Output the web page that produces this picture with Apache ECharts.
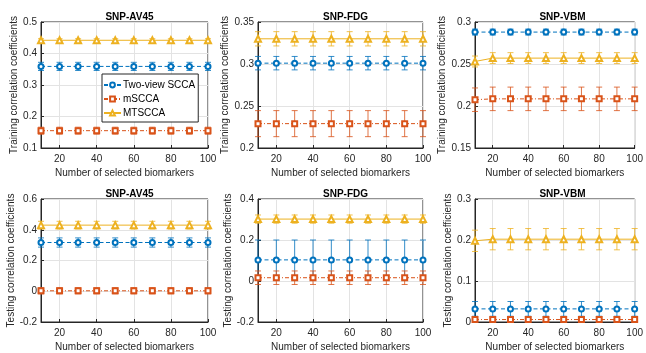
<!DOCTYPE html>
<html>
<head>
<meta charset="utf-8">
<script src="https://cdn.jsdelivr.net/npm/echarts@6/dist/echarts.min.js"></script>
<style>
html,body{margin:0;padding:0;background:#fff;}
#chart{width:646px;height:353px;}
</style>
</head>
<body>
<div id="chart"></div>
<script>
// ---- data ----
const xValues = [10, 20, 30, 40, 50, 60, 70, 80, 90, 100];
const xTickLabels = [20, 40, 60, 80, 100];
const seriesNames = ['Two-view SCCA', 'mSCCA', 'MTSCCA'];
const panelTitles = ['SNP-AV45', 'SNP-FDG', 'SNP-VBM', 'SNP-AV45', 'SNP-FDG', 'SNP-VBM'];
const yAxisNames = ['Training correlation coefficients', 'Testing correlation coefficients'];
const xAxisName = 'Number of selected biomarkers';

// Training: SNP-AV45
const trainAV45_two = [0.359, 0.359, 0.359, 0.359, 0.359, 0.359, 0.359, 0.359, 0.359, 0.359];
const trainAV45_two_err = [0.013, 0.013, 0.013, 0.013, 0.013, 0.013, 0.013, 0.013, 0.013, 0.013];
const trainAV45_m = [0.155, 0.155, 0.155, 0.155, 0.155, 0.155, 0.155, 0.155, 0.155, 0.155];
const trainAV45_m_err = [0.011, 0.011, 0.011, 0.011, 0.011, 0.011, 0.011, 0.011, 0.011, 0.011];
const trainAV45_mt = [0.442, 0.442, 0.442, 0.442, 0.442, 0.442, 0.442, 0.442, 0.442, 0.442];
const trainAV45_mt_err = [0.005, 0.005, 0.005, 0.005, 0.005, 0.005, 0.005, 0.005, 0.005, 0.005];
// Training: SNP-FDG
const trainFDG_two = [0.301, 0.301, 0.301, 0.301, 0.301, 0.301, 0.301, 0.301, 0.301, 0.301];
const trainFDG_two_err = [0.008, 0.008, 0.008, 0.008, 0.008, 0.008, 0.008, 0.008, 0.008, 0.008];
const trainFDG_m = [0.229, 0.229, 0.229, 0.229, 0.229, 0.229, 0.229, 0.229, 0.229, 0.229];
const trainFDG_m_err = [0.0155, 0.0155, 0.0155, 0.0155, 0.0155, 0.0155, 0.0155, 0.0155, 0.0155, 0.0155];
const trainFDG_mt = [0.330, 0.330, 0.330, 0.330, 0.330, 0.330, 0.330, 0.330, 0.330, 0.330];
const trainFDG_mt_err = [0.0085, 0.0085, 0.0085, 0.0085, 0.0085, 0.0085, 0.0085, 0.0085, 0.0085, 0.0085];
// Training: SNP-VBM
const trainVBM_two = [0.288, 0.288, 0.288, 0.288, 0.288, 0.288, 0.288, 0.288, 0.288, 0.288];
const trainVBM_two_err = [0.0035, 0.0035, 0.0035, 0.0035, 0.0035, 0.0035, 0.0035, 0.0035, 0.0035, 0.0035];
const trainVBM_m = [0.2075, 0.2085, 0.2085, 0.2085, 0.2085, 0.2085, 0.2085, 0.2085, 0.2085, 0.2085];
const trainVBM_m_err = [0.014, 0.014, 0.014, 0.014, 0.014, 0.014, 0.014, 0.014, 0.014, 0.014];
const trainVBM_mt = [0.253, 0.257, 0.257, 0.257, 0.257, 0.257, 0.257, 0.257, 0.257, 0.257];
const trainVBM_mt_err = [0.0065, 0.0065, 0.0065, 0.0065, 0.0065, 0.0065, 0.0065, 0.0065, 0.0065, 0.0065];
// Testing: SNP-AV45
const testAV45_two = [0.317, 0.317, 0.317, 0.317, 0.317, 0.317, 0.317, 0.317, 0.317, 0.317];
const testAV45_two_err = [0.03, 0.03, 0.03, 0.03, 0.03, 0.03, 0.03, 0.03, 0.03, 0.03];
const testAV45_m = [0.003, 0.003, 0.003, 0.003, 0.003, 0.003, 0.003, 0.003, 0.003, 0.003];
const testAV45_m_err = [0.02, 0.02, 0.02, 0.02, 0.02, 0.02, 0.02, 0.02, 0.02, 0.02];
const testAV45_mt = [0.43, 0.43, 0.43, 0.43, 0.43, 0.43, 0.43, 0.43, 0.43, 0.43];
const testAV45_mt_err = [0.025, 0.025, 0.025, 0.025, 0.025, 0.025, 0.025, 0.025, 0.025, 0.025];
// Testing: SNP-FDG
const testFDG_two = [0.103, 0.103, 0.103, 0.103, 0.103, 0.103, 0.103, 0.103, 0.103, 0.103];
const testFDG_two_err = [0.097, 0.097, 0.097, 0.097, 0.097, 0.097, 0.097, 0.097, 0.097, 0.097];
const testFDG_m = [0.016, 0.016, 0.016, 0.016, 0.016, 0.016, 0.016, 0.016, 0.016, 0.016];
const testFDG_m_err = [0.033, 0.033, 0.033, 0.033, 0.033, 0.033, 0.033, 0.033, 0.033, 0.033];
const testFDG_mt = [0.302, 0.302, 0.302, 0.302, 0.302, 0.302, 0.302, 0.302, 0.302, 0.302];
const testFDG_mt_err = [0.02, 0.02, 0.02, 0.02, 0.02, 0.02, 0.02, 0.02, 0.02, 0.02];
// Testing: SNP-VBM
const testVBM_two = [0.032, 0.032, 0.032, 0.032, 0.032, 0.032, 0.032, 0.032, 0.032, 0.032];
const testVBM_two_err = [0.018, 0.018, 0.018, 0.018, 0.018, 0.018, 0.018, 0.018, 0.018, 0.018];
const testVBM_m = [0.006, 0.006, 0.006, 0.006, 0.006, 0.006, 0.006, 0.006, 0.006, 0.006];
const testVBM_m_err = [0.004, 0.004, 0.004, 0.004, 0.004, 0.004, 0.004, 0.004, 0.004, 0.004];
const testVBM_mt = [0.198, 0.202, 0.202, 0.202, 0.202, 0.202, 0.202, 0.202, 0.202, 0.202];
const testVBM_mt_err = [0.026, 0.026, 0.026, 0.026, 0.026, 0.026, 0.026, 0.026, 0.026, 0.026];

// y-axis ranges per panel
const yMins = [0.1, 0.2, 0.15, -0.2, -0.2, 0];
const yMaxs = [0.5, 0.35, 0.3, 0.6, 0.4, 0.3];
const yIntervals = [0.1, 0.05, 0.05, 0.2, 0.2, 0.1];

const panels = [
  [[trainAV45_two, trainAV45_two_err], [trainAV45_m, trainAV45_m_err], [trainAV45_mt, trainAV45_mt_err]],
  [[trainFDG_two, trainFDG_two_err], [trainFDG_m, trainFDG_m_err], [trainFDG_mt, trainFDG_mt_err]],
  [[trainVBM_two, trainVBM_two_err], [trainVBM_m, trainVBM_m_err], [trainVBM_mt, trainVBM_mt_err]],
  [[testAV45_two, testAV45_two_err], [testAV45_m, testAV45_m_err], [testAV45_mt, testAV45_mt_err]],
  [[testFDG_two, testFDG_two_err], [testFDG_m, testFDG_m_err], [testFDG_mt, testFDG_mt_err]],
  [[testVBM_two, testVBM_two_err], [testVBM_m, testVBM_m_err], [testVBM_mt, testVBM_mt_err]]
];

// ---- style ----
const FONT = '"Liberation Sans", Arial, Helvetica, sans-serif';
const AX = '#262626';
const colors = ['#0072BD', '#D95319', '#EDB120'];
const symbols = ['emptyCircle', 'emptyRect', 'emptyTriangle'];
const symbolSizes = [5, 5, 6];
const lineTypes = [[4, 2.5], [4, 2, 1, 2], 'solid'];

const colLeft = [41, 258, 475];
const colWidth = [167, 165, 165];
const rowTop = [22, 199];
const rowHeight = [126, 126];

const chart = echarts.init(document.getElementById('chart'), null, {renderer: 'canvas'});

const grids = [], xAxes = [], yAxes = [], titles = [], series = [];

function fmt(v) { return String(parseFloat(v.toFixed(3))); }

for (let p = 0; p < 6; p++) {
  const r = Math.floor(p / 3), c = p % 3;
  grids.push({
    left: colLeft[c], top: rowTop[r], width: colWidth[c], height: rowHeight[r],
    show: true, borderColor: AX, borderWidth: 1, backgroundColor: '#fff'
  });
  xAxes.push({
    gridIndex: p, type: 'value', min: 10, max: 100,
    name: xAxisName, nameLocation: 'middle', nameGap: 20,
    nameTextStyle: {fontFamily: FONT, fontSize: 10, color: AX},
    axisLine: {show: true, onZero: false, lineStyle: {color: AX, width: 1}},
    axisTick: {show: true, inside: true, length: 3, lineStyle: {color: AX}, customValues: xTickLabels},
    axisLabel: {fontFamily: FONT, fontSize: 10, color: AX, margin: 6, customValues: xTickLabels},
    splitLine: {show: true, lineStyle: {color: '#e3e3e3', width: 1}}
  });
  yAxes.push({
    gridIndex: p, type: 'value', min: yMins[p], max: yMaxs[p], interval: yIntervals[p],
    name: yAxisNames[r], nameLocation: 'middle', nameGap: 21,
    nameTextStyle: {fontFamily: FONT, fontSize: 10, color: AX},
    axisLine: {show: true, onZero: false, lineStyle: {color: AX, width: 1}},
    axisTick: {show: true, inside: true, length: 3, lineStyle: {color: AX}},
    axisLabel: {fontFamily: FONT, fontSize: 10, color: AX, margin: 4, formatter: fmt},
    splitLine: {show: true, lineStyle: {color: '#e3e3e3', width: 1}}
  });
  titles.push({
    text: panelTitles[p],
    left: colLeft[c] + colWidth[c] / 2, textAlign: 'center',
    top: rowTop[r] - 15,
    textStyle: {fontFamily: FONT, fontSize: 10, fontWeight: 'bold', color: '#000'}
  });
  for (let s = 0; s < 3; s++) {
    const vals = panels[p][s][0], errs = panels[p][s][1];
    const ebData = xValues.map((x, i) => [x, vals[i] - errs[i], vals[i] + errs[i]]);
    const col = colors[s];
    series.push({
      type: 'custom', name: seriesNames[s] + ' err ' + p,
      xAxisIndex: p, yAxisIndex: p, z: 2, silent: true,
      renderItem: function (params, api) {
        const x = api.value(0);
        const lo = api.coord([x, api.value(1)]);
        const hi = api.coord([x, api.value(2)]);
        const cw = 3;
        const st = {stroke: col, lineWidth: 1, opacity: 0.8};
        return {type: 'group', children: [
          {type: 'line', shape: {x1: lo[0], y1: lo[1], x2: hi[0], y2: hi[1]}, style: st},
          {type: 'line', shape: {x1: lo[0] - cw, y1: lo[1], x2: lo[0] + cw, y2: lo[1]}, style: st},
          {type: 'line', shape: {x1: hi[0] - cw, y1: hi[1], x2: hi[0] + cw, y2: hi[1]}, style: st}
        ]};
      },
      encode: {x: 0, y: [1, 2]},
      data: ebData,
      clip: false
    });
    series.push({
      type: 'line', name: seriesNames[s],
      xAxisIndex: p, yAxisIndex: p, z: 3,
      data: xValues.map((x, i) => [x, vals[i]]),
      symbol: symbols[s], symbolSize: symbolSizes[s], showAllSymbol: true,
      lineStyle: {color: col, width: 1, type: lineTypes[s]},
      itemStyle: {color: col, borderColor: col, borderWidth: 1},
      animation: false
    });
  }
}

chart.setOption({
  backgroundColor: '#fff',
  animation: false,
  title: titles,
  grid: grids,
  xAxis: xAxes,
  yAxis: yAxes,
  legend: {
    data: seriesNames,
    orient: 'vertical',
    left: 102, top: 74,
    itemWidth: 17, itemHeight: 6, itemGap: 2,
    padding: [5, 3, 3, 1],
    backgroundColor: '#fff', borderColor: AX, borderWidth: 1,
    textStyle: {fontFamily: FONT, fontSize: 10, color: '#000', padding: [0, 0, 0, -3], lineHeight: 12},
    selectedMode: false
  },
  series: series
});
</script>
</body>
</html>
